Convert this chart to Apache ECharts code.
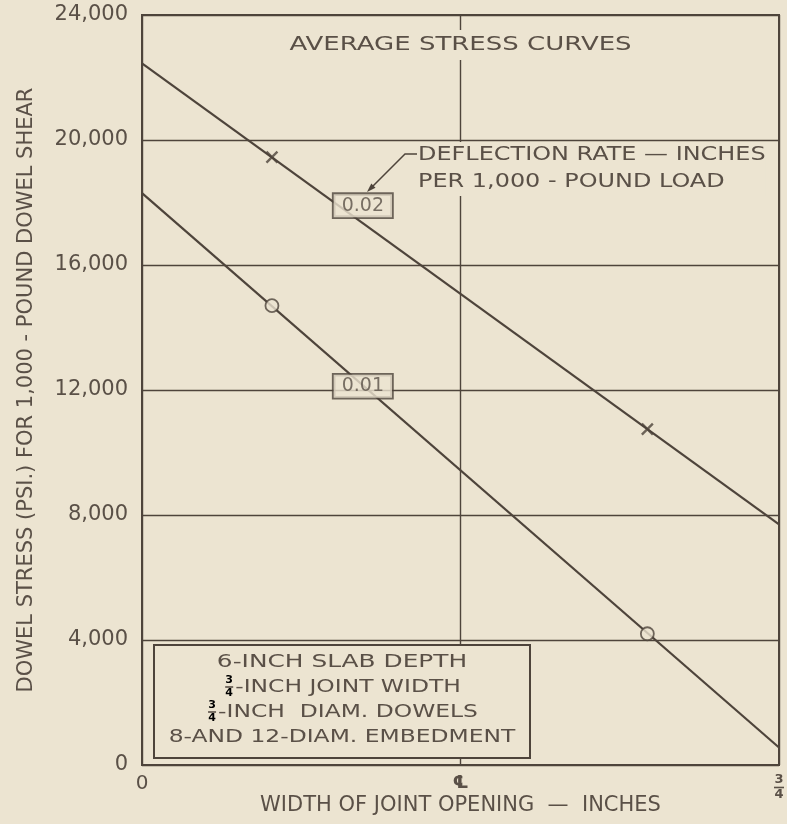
<!DOCTYPE html>
<html>
<head>
<meta charset="utf-8">
<script src="https://cdn.jsdelivr.net/npm/echarts@6/dist/echarts.min.js"></script>
<style>
  html, body { margin: 0; padding: 0; background: #ece4d1; }
  #chart { width: 787px; height: 824px; }
</style>
</head>
<body>
<div id="chart"></div>
<script>
// Dowel stress per 1,000-lb dowel shear vs. width of joint opening
const openingRange = [0, 0.75];            // inches, ends of each curve
const curveNames = ['0.02', '0.01'];       // deflection rate, in. per 1,000-lb load
const stress002 = [22450, 7700];           // psi at 0 and 3/4 in. opening
const stress001 = [18300, 560];
const testOpenings = [0.153, 0.595];       // openings with plotted test points
const tests002 = [19450, 10750];
const tests001 = [14700, 4200];
const curveTagAt = [[0.26, 17900], [0.26, 12120]];
const yTicks = [0, 4000, 8000, 12000, 16000, 20000, 24000];
const xTickLabels = { 0: '0', 0.375: '\u2104', 0.75: '3/4' };

const titleText = 'AVERAGE STRESS CURVES';
const noteText = ['DEFLECTION RATE \u2014 INCHES', 'PER 1,000 - POUND LOAD'];
const infoLines = [
  { frac: false, text: '6-INCH SLAB DEPTH' },
  { frac: true,  text: '-INCH JOINT WIDTH' },
  { frac: true,  text: '-INCH  DIAM. DOWELS' },
  { frac: false, text: '8-AND 12-DIAM. EMBEDMENT' }
];
const xName = 'WIDTH OF JOINT OPENING  \u2014  INCHES';
const yName = 'DOWEL STRESS (PSI.) FOR 1,000 - POUND DOWEL SHEAR';

const INK = '#4e443b';
const TEXT = '#5a5047';
const PAPER = '#ece4d1';
const FONT = 'DejaVu Sans';
const WIDE = 1.3;   // horizontal stretch for the lettering

const measureCtx = document.createElement('canvas').getContext('2d');
function textWidth(str, size) {
  measureCtx.font = size + 'px "' + FONT + '"';
  return measureCtx.measureText(str).width;
}

// stacked 3/4 fraction as rich text
function fracRich(size) {
  return {
    n: { fontSize: size, fontWeight: 'bold', lineHeight: size - 1, color: TEXT, fontFamily: FONT, align: 'center' },
    b: { width: size - 3, height: 1.6, lineHeight: 3, fontSize: 1, backgroundColor: TEXT, align: 'center' }
  };
}
const fracStr = '{n|3}\n{b| }\n{n|4}';

const chart = echarts.init(document.getElementById('chart'), null, { renderer: 'canvas' });

// plot frame in pixels (for placing the annotations)
const G = { left: 142, top: 15, right: 8, bottom: 59 };

// notes box in the lower-left corner
const box = { x: 154, y: 645, w: 376, h: 113, cx: 342, firstLine: 662, step: 25, size: 18 };
const infoEls = [{
  type: 'rect', z: 20,
  shape: { x: box.x, y: box.y, width: box.w, height: box.h },
  style: { fill: PAPER, stroke: INK, lineWidth: 2 }
}];
infoLines.forEach((ln, i) => {
  const y = box.firstLine + i * box.step;
  const stretch = i === 0 ? 1.38 : WIDE;
  const tw = textWidth(ln.text, box.size) * stretch;
  const fw = ln.frac ? 12 : 0;
  const left = box.cx - (tw + fw) / 2;
  if (ln.frac) {
    infoEls.push({
      type: 'text', z: 21, x: left + fw / 2, y: y,
      style: { text: fracStr, rich: fracRich(11), align: 'center', verticalAlign: 'middle' }
    });
  }
  infoEls.push({
    type: 'text', z: 21, x: left + fw, y: y, scaleX: stretch,
    style: { text: ln.text, fontSize: box.size, fontFamily: FONT, fill: TEXT, align: 'left', verticalAlign: 'middle' }
  });
});

const option = {
  backgroundColor: PAPER,
  animation: false,
  textStyle: { fontFamily: FONT },
  grid: {
    left: G.left, top: G.top, right: G.right, bottom: G.bottom,
    containLabel: false, outerBoundsMode: 'none',
    show: true, borderColor: INK, borderWidth: 2, backgroundColor: 'transparent'
  },
  xAxis: {
    type: 'value',
    min: openingRange[0], max: openingRange[1], interval: 0.375,
    name: xName, nameLocation: 'middle', nameGap: 30, nameMoveOverlap: false,
    nameTextStyle: { fontSize: 21, color: TEXT, fontFamily: FONT },
    axisLine: { show: true, lineStyle: { color: INK, width: 2 } },
    axisTick: { show: false },
    splitLine: { show: true, lineStyle: { color: INK, width: 1.4 } },
    axisLabel: {
      margin: 9, color: TEXT, fontSize: 20, fontFamily: FONT,
      showMinLabel: true, showMaxLabel: true,
      formatter: v => {
        const t = xTickLabels[v];
        if (t === '3/4') return fracStr;
        if (t === '\u2104') return '{cl|' + t + '}';
        return t || '';
      },
      rich: Object.assign({ cl: { fontSize: 18, fontWeight: 'bold', color: TEXT, fontFamily: FONT } }, fracRich(13))
    }
  },
  yAxis: {
    type: 'value',
    min: yTicks[0], max: yTicks[yTicks.length - 1], interval: yTicks[1] - yTicks[0],
    name: yName, nameLocation: 'middle', nameRotate: 90, nameGap: 105, nameMoveOverlap: false,
    nameTextStyle: { fontSize: 21, color: TEXT, fontFamily: FONT },
    axisLine: { show: true, lineStyle: { color: INK, width: 2 } },
    axisTick: { show: false },
    splitLine: { show: true, lineStyle: { color: INK, width: 1.4 } },
    axisLabel: {
      margin: 14, color: TEXT, fontSize: 21, fontFamily: FONT,
      formatter: v => v.toLocaleString('en-US')
    }
  },
  series: [
    {
      name: curveNames[0], type: 'line', z: 2, silent: true,
      data: [[openingRange[0], stress002[0]], [openingRange[1], stress002[1]]],
      showSymbol: false, symbol: 'none',
      lineStyle: { color: INK, width: 2.2 }
    },
    {
      name: curveNames[1], type: 'line', z: 2, silent: true,
      data: [[openingRange[0], stress001[0]], [openingRange[1], stress001[1]]],
      showSymbol: false, symbol: 'none',
      lineStyle: { color: INK, width: 2.2 }
    },
    {
      name: curveNames[0] + ' tests', type: 'scatter', z: 4,
      data: testOpenings.map((x, i) => [x, tests002[i]]),
      symbol: 'path://M0,0L10,10M10,0L0,10', symbolSize: 11,
      itemStyle: { color: 'transparent', borderColor: INK, borderWidth: 2.4 }
    },
    {
      name: curveNames[1] + ' tests', type: 'scatter', z: 4,
      data: testOpenings.map((x, i) => [x, tests001[i]]),
      symbol: 'circle', symbolSize: 13,
      itemStyle: { color: PAPER, borderColor: INK, borderWidth: 1.8 }
    },
    {
      name: 'curve tags', type: 'scatter', z: 6, silent: true,
      data: curveNames.map((n, i) => ({ name: n, value: curveTagAt[i] })),
      symbol: 'circle', symbolSize: 1,
      itemStyle: { color: 'transparent' },
      label: {
        show: true, position: 'inside', formatter: '{b}',
        fontSize: 19, fontFamily: FONT, color: TEXT,
        backgroundColor: PAPER, borderColor: INK, borderWidth: 1.8,
        padding: [3, 8, 1, 8]
      }
    }
  ],
  graphic: [
    {
      type: 'text', z: 20, x: (G.left + 787 - G.right) / 2, y: 45, scaleX: WIDE,
      style: {
        text: titleText, fontSize: 20, fontFamily: FONT, fill: TEXT,
        align: 'center', verticalAlign: 'middle',
        backgroundColor: PAPER, padding: [5, 6]
      }
    },
    {
      type: 'text', z: 20, x: 418, y: 142, scaleX: 1.26,
      style: {
        text: noteText.join('\n'), fontSize: 19, fontFamily: FONT, fill: TEXT,
        align: 'left', verticalAlign: 'top', lineHeight: 27,
        backgroundColor: PAPER, padding: [0, 0, 0, 0]
      }
    },
    {
      type: 'polyline', z: 21,
      shape: { points: [[417, 154], [405, 154], [372, 187]] },
      style: { stroke: INK, lineWidth: 1.5, fill: null }
    },
    {
      type: 'polygon', z: 21,
      shape: { points: [[367, 192], [375.5, 187.7], [371.3, 183.5]] },
      style: { fill: INK }
    },
    { type: 'group', children: infoEls }
  ]
};

chart.setOption(option);
</script>
</body>
</html>
